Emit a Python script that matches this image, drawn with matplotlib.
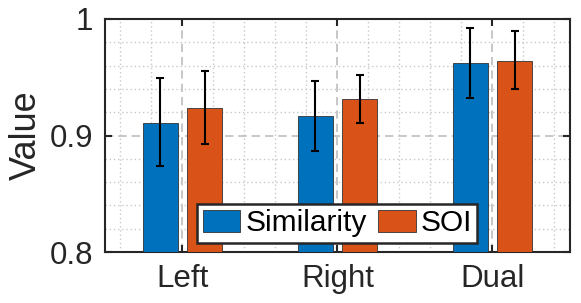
import numpy as np
import matplotlib
matplotlib.use('Agg')
from matplotlib import pyplot as plt
from matplotlib.ticker import MultipleLocator

plt.rcParams['font.family'] = ['Liberation Sans', 'DejaVu Sans']

# data
categories = ['Left', 'Right', 'Dual']
similarity = [0.911, 0.917, 0.9625]
similarity_lo = [0.874, 0.887, 0.9325]
similarity_hi = [0.949, 0.947, 0.992]
soi = [0.924, 0.931, 0.964]
soi_lo = [0.893, 0.9105, 0.9395]
soi_hi = [0.955, 0.952, 0.9895]

fg = '#262626'
x = np.arange(1, len(categories) + 1)
w = 0.226
off = 0.143

fig = plt.figure(figsize=(5.81, 3.03), dpi=100)
ax = fig.add_axes([0.1807, 0.1683, 0.8003, 0.769])

sim = np.array(similarity)
so = np.array(soi)
err_sim = [sim - np.array(similarity_lo), np.array(similarity_hi) - sim]
err_soi = [so - np.array(soi_lo), np.array(soi_hi) - so]

ax.bar(x - off, sim, w, color='#0072BD', edgecolor='#333333', linewidth=0.6,
       label='Similarity', zorder=3)
ax.bar(x + off, so, w, color='#D95319', edgecolor='#333333', linewidth=0.6,
       label='SOI', zorder=3)
ax.errorbar(x - off, sim, yerr=err_sim, fmt='none', ecolor='black',
            elinewidth=1.5, capsize=3, capthick=1.5, zorder=4)
ax.errorbar(x + off, so, yerr=err_soi, fmt='none', ecolor='black',
            elinewidth=1.5, capsize=3, capthick=1.5, zorder=4)

ax.set_xlim(0.5, 3.5)
ax.set_ylim(0.8, 1.0)
ax.set_xticks(x)
ax.set_xticklabels(categories)
ax.set_yticks([0.8, 0.9, 1.0])
ax.set_yticklabels(['0.8', '0.9', '1'])
ax.xaxis.set_minor_locator(MultipleLocator(0.2))
ax.yaxis.set_minor_locator(MultipleLocator(0.02))

ax.grid(True, which='major', linestyle=(0, (5, 3)), color='#bdbdbd', linewidth=1.2, zorder=0)
ax.grid(True, which='minor', linestyle=(0, (1, 2)), color='#c8c8c8', linewidth=1.0, zorder=0)
ax.set_axisbelow(True)

ax.tick_params(axis='both', which='major', direction='in', top=True, right=True,
               length=5, width=1.5, colors=fg, labelsize=22.5, pad=8.5)
ax.tick_params(axis='both', which='minor', length=0)
for s in ax.spines.values():
    s.set_linewidth(1.5)
    s.set_color(fg)

ax.set_ylabel('Value', fontsize=26, color=fg, labelpad=4)

leg = ax.legend(loc='lower center', bbox_to_anchor=(0.5, 0.015), ncol=2,
                fontsize=21.5, frameon=True, fancybox=False, framealpha=1,
                handlelength=1.27, handleheight=0.74, handletextpad=0.17,
                columnspacing=0.37, borderpad=0.17, borderaxespad=0.2)
leg.get_frame().set_edgecolor(fg)
leg.get_frame().set_linewidth(1.8)
leg.set_zorder(5)

fig.savefig('out.png', dpi=100)
